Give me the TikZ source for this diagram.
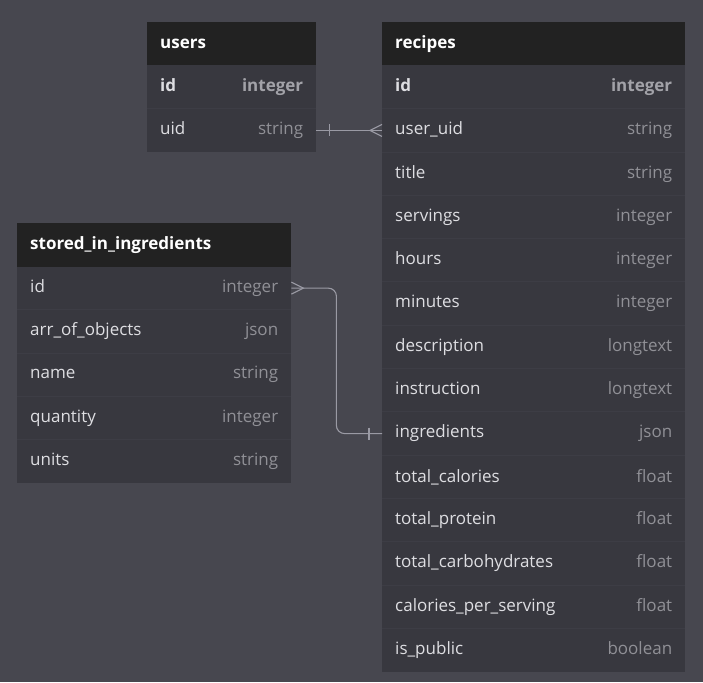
\documentclass[tikz,border=0pt]{standalone}
\usepackage{fontspec}
\setmainfont{Open Sans}
\usetikzlibrary{calc}
\definecolor{bgc}{HTML}{47474F}
\definecolor{hdrc}{HTML}{222222}
\definecolor{rowc}{HTML}{38383F}
\definecolor{sepc}{HTML}{3D3D45}
\definecolor{namec}{HTML}{DEDEE2}
\definecolor{typec}{HTML}{909096}
\definecolor{keytypec}{HTML}{A2A2A8}
\definecolor{connc}{HTML}{9A9AA4}
\tikzset{
  hdr/.style={fill=hdrc, minimum height=43.3, anchor=north west, inner sep=0pt,
    font=\bfseries\fontsize{17}{20}\selectfont, text=white, align=left},
  erow/.style={fill=rowc, minimum height=43.3, anchor=north west, inner sep=0pt,
    font=\fontsize{17}{20}\selectfont, text=namec, align=left},
  keyrow/.style={erow, font=\bfseries\fontsize{17}{20}\selectfont},
  rowsep/.style={draw=sepc, line width=0.8pt},
  conn/.style={draw=connc, line width=1.1pt},
}
\begin{document}
\begin{tikzpicture}[x=1pt,y=-1pt]
\fill[bgc] (0,0) rectangle (703,682);
\useasboundingbox (0,0) rectangle (703,682);

% users
\node[hdr, minimum width=169, text width=143] (users) at (147,22) {users};
\node[keyrow, minimum width=169, text width=143] (users-1) at (147,65.3) {id\hfill\textcolor{keytypec}{integer}};
\node[erow, minimum width=169, text width=143] (users-2) at (147,108.6) {uid\hfill\textcolor{typec}{string}};
\draw[rowsep] (users-2.north west) -- (users-2.north east);

% recipes
\node[hdr, minimum width=303, text width=277] (recipes) at (382,22) {recipes};
\node[keyrow, minimum width=303, text width=277] (recipes-1) at (382,65.3) {id\hfill\textcolor{keytypec}{integer}};
\foreach \n/\t [count=\i from 2] in {user\_uid/string, title/string, servings/integer, hours/integer, minutes/integer, description/longtext, instruction/longtext, ingredients/json, total\_calories/float, total\_protein/float, total\_carbohydrates/float, calories\_per\_serving/float, is\_public/boolean}{
  \node[erow, minimum width=303, text width=277] (recipes-\i) at (382,{22+43.3*\i}) {\n\hfill\textcolor{typec}{\t}};
  \draw[rowsep] (recipes-\i.north west) -- (recipes-\i.north east);
}

% stored_in_ingredients
\node[hdr, minimum width=274, text width=248] (sii) at (17,223) {stored\_in\_ingredients};
\foreach \n/\t [count=\i] in {id/integer, arr\_of\_objects/json, name/string, quantity/integer, units/string}{
  \node[erow, minimum width=274, text width=248] (sii-\i) at (17,{223+43.3*\i}) {\n\hfill\textcolor{typec}{\t}};
  \ifnum\i>1 \draw[rowsep] (sii-\i.north west) -- (sii-\i.north east);\fi
}

% users.uid -- recipes.user_uid
\draw[conn] (users-2.east) -- (recipes-2.west);
\draw[conn] ($(users-2.east)+(13,-6)$) -- ($(users-2.east)+(13,6)$);
\draw[conn] ($(recipes-2.west)+(0,-6)$) -- ($(recipes-2.west)+(-12,0)$) -- ($(recipes-2.west)+(0,6)$);

% stored_in_ingredients.id -- recipes.ingredients
\draw[conn, rounded corners=8pt] (sii-1.east) -- ($(sii-1.east)+(45,0)$) |- (recipes-9.west);
\draw[conn] ($(sii-1.east)+(0,-6)$) -- ($(sii-1.east)+(12,0)$) -- ($(sii-1.east)+(0,6)$);
\draw[conn] ($(recipes-9.west)+(-13,-6)$) -- ($(recipes-9.west)+(-13,6)$);
\end{tikzpicture}
\end{document}
